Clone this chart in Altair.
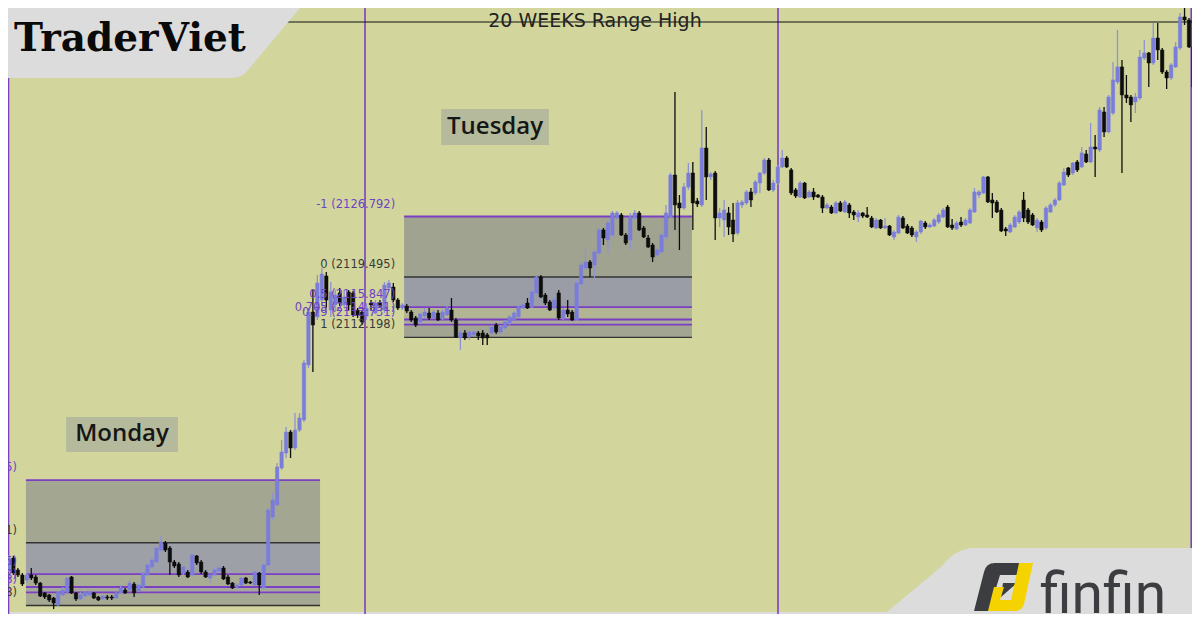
import altair as alt
import pandas as pd

# ---------------- data (prices) ----------------
open_px = [2082.52,2083.73,2084.09,2085.54,2084.09,2083.49,2082.89,2083.49,2083.25,2082.52,
2081.32,2081.08,2080.71,2079.87,2081.08,2081.44,2083.25,2081.32,2080.59,2080.95,
2081.08,2081.32,2080.83,2080.59,2080.83,2080.83,2080.71,2081.32,2081.68,2081.68,
2082.40,2081.56,2082.04,2083.49,2084.46,2085.06,2086.51,2087.36,2086.75,2085.06,
2084.82,2083.73,2083.85,2083.49,2085.79,2085.06,2083.85,2083.13,2083.49,2083.97,
2084.34,2083.25,2082.52,2082.04,2082.28,2083.13,2082.64,2082.28,2083.73,2081.92,
2084.70,2090.49,2091.95,2096.42,2098.23,2100.76,2098.83,2101.00,2102.22,2108.86,
2115.26,2114.66,2116.71,2119.61,2115.50,2116.11,2117.56,2116.11,2117.68,2117.56,
2115.50,2115.26,2114.78,2116.35,2115.14,2116.35,2115.50,2118.16,2118.28,2116.71,
2115.74,2115.98,2115.26,2114.54,2114.05,2114.78,2115.14,2114.54,2115.14,2114.54,
2114.90,2115.50,2114.29,2112.13,2112.73,2112.25,2112.49,2112.73,2112.73,2112.49,
2112.73,2113.69,2112.85,2113.33,2113.93,2114.29,2114.66,2115.74,2116.35,2115.86,
2117.56,2119.49,2117.31,2116.47,2115.74,2117.56,2114.54,2115.50,2115.26,2114.29,
2118.64,2120.57,2121.30,2120.94,2122.39,2125.17,2123.96,2124.56,2126.61,2126.98,
2124.56,2123.96,2126.61,2127.22,2125.41,2124.20,2123.35,2122.15,2122.51,2124.32,
2126.73,2131.81,2128.43,2127.82,2130.36,2132.05,2128.67,2128.19,2135.07,2131.57,
2132.05,2126.61,2126.37,2127.22,2126.37,2124.80,2128.19,2128.43,2129.76,2129.64,
2130.84,2132.05,2133.62,2130.00,2130.84,2132.78,2133.86,2132.42,2130.00,2129.15,
2130.84,2129.15,2129.76,2129.39,2129.15,2127.82,2127.94,2127.22,2128.43,2127.34,
2128.19,2127.34,2126.73,2127.22,2126.98,2126.61,2125.41,2126.37,2125.41,2125.65,
2124.32,2124.80,2126.61,2125.65,2125.41,2124.32,2124.92,2126.01,2125.53,2125.65,
2126.13,2126.73,2127.94,2125.77,2125.29,2126.13,2125.77,2126.01,2127.34,2129.39,
2129.64,2131.57,2128.79,2128.55,2127.58,2125.29,2124.92,2125.53,2126.13,2128.79,
2127.58,2126.98,2125.41,2126.13,2125.41,2127.34,2128.19,2128.79,2130.60,2132.66,
2132.05,2133.38,2132.78,2134.35,2133.38,2135.19,2134.83,2139.42,2137.00,2139.30,
2143.05,2144.86,2141.47,2141.23,2140.63,2141.11,2145.94,2146.55,2145.34,2148.36,
2146.91,2144.25,2143.53,2144.86,2147.15,2150.90,2150.53,2147.27,2142.68]

high_px = [2084.34,2085.30,2085.91,2085.79,2084.34,2083.73,2083.73,2084.34,2083.49,2082.64,
2081.44,2081.20,2080.83,2081.56,2082.04,2083.25,2083.37,2081.44,2081.44,2081.56,
2081.68,2081.44,2080.95,2081.08,2081.08,2081.08,2081.44,2082.28,2081.92,2082.89,
2082.64,2082.52,2083.85,2084.94,2085.54,2086.87,2088.20,2087.60,2086.99,2085.30,
2085.06,2084.70,2084.09,2086.03,2085.91,2085.30,2084.09,2083.61,2084.34,2084.58,
2084.58,2083.49,2082.64,2082.52,2083.25,2083.25,2082.76,2083.97,2083.85,2084.94,
2091.58,2093.40,2097.02,2099.80,2101.37,2101.00,2103.06,2103.06,2109.46,2115.74,
2117.92,2119.73,2120.57,2120.09,2118.88,2117.92,2118.16,2117.92,2117.92,2117.80,
2115.74,2115.50,2116.35,2116.71,2116.71,2116.71,2118.88,2119.12,2118.76,2116.95,
2116.35,2116.23,2115.50,2114.78,2115.14,2115.74,2115.74,2115.50,2115.50,2115.50,
2115.98,2116.95,2114.54,2113.09,2113.09,2113.09,2113.09,2112.97,2113.09,2112.73,
2113.69,2113.93,2113.69,2114.29,2114.90,2115.38,2116.11,2116.35,2116.95,2117.92,
2119.73,2119.73,2117.56,2116.71,2117.07,2117.92,2115.74,2116.71,2115.50,2119.12,
2121.30,2123.11,2121.54,2122.75,2125.41,2125.41,2126.37,2127.46,2127.46,2127.22,
2124.80,2127.22,2127.58,2127.46,2125.65,2124.56,2123.59,2122.99,2124.80,2128.19,
2132.05,2141.84,2129.39,2130.84,2133.26,2133.38,2129.03,2139.66,2137.61,2132.17,
2132.29,2127.82,2128.79,2127.94,2128.43,2128.79,2128.79,2130.00,2130.24,2131.21,
2132.17,2133.86,2133.86,2131.21,2133.02,2134.83,2134.10,2132.66,2130.24,2131.09,
2130.97,2130.00,2130.24,2129.51,2129.39,2128.43,2128.19,2128.67,2128.67,2128.79,
2128.43,2127.58,2127.58,2127.34,2127.94,2126.86,2126.61,2126.49,2126.61,2125.77,
2125.17,2126.98,2126.86,2125.89,2125.65,2125.17,2126.37,2126.25,2126.01,2126.61,
2127.22,2127.82,2128.19,2126.49,2126.25,2126.73,2126.61,2127.82,2130.24,2130.00,
2131.69,2131.69,2129.64,2128.79,2127.82,2125.53,2126.01,2126.98,2127.58,2129.76,
2127.82,2127.22,2126.61,2126.37,2128.07,2128.43,2129.03,2131.09,2132.66,2132.78,
2133.38,2133.62,2135.19,2134.83,2138.09,2136.64,2140.02,2140.02,2141.47,2145.46,
2149.33,2145.70,2143.89,2141.47,2141.72,2146.91,2148.12,2146.67,2150.17,2150.17,
2147.15,2144.49,2145.34,2147.88,2151.38,2152.10,2150.78,2147.51,2144.13]

low_px = [2082.16,2083.37,2083.85,2083.49,2083.25,2082.16,2082.52,2082.89,2082.28,2080.83,
2080.59,2080.23,2079.38,2079.75,2080.95,2081.32,2081.20,2080.35,2080.47,2080.83,
2080.95,2080.59,2080.35,2080.47,2080.47,2080.47,2080.59,2081.20,2081.20,2081.56,
2080.83,2081.44,2081.92,2083.37,2084.34,2084.94,2086.39,2086.27,2083.49,2084.34,
2083.25,2083.49,2083.13,2083.37,2084.70,2083.61,2083.13,2082.52,2083.37,2083.73,
2082.89,2082.28,2081.80,2081.80,2082.16,2082.40,2082.40,2082.16,2081.08,2081.68,
2084.58,2090.13,2091.83,2096.18,2097.62,2097.62,2098.59,2100.76,2101.97,2108.49,
2108.01,2114.29,2116.11,2115.74,2114.66,2115.26,2115.98,2115.74,2115.50,2114.66,
2114.54,2113.69,2114.29,2115.50,2115.02,2115.74,2115.14,2117.92,2116.47,2115.50,
2115.50,2115.14,2114.05,2113.45,2113.81,2114.54,2114.29,2114.42,2114.17,2114.29,
2114.78,2114.05,2112.13,2110.67,2111.88,2111.88,2112.37,2111.88,2111.28,2111.28,
2112.49,2112.61,2112.61,2113.09,2113.69,2114.05,2114.54,2115.62,2115.62,2115.74,
2117.31,2116.95,2116.11,2115.38,2115.50,2114.29,2114.29,2114.66,2114.17,2114.17,
2118.52,2120.33,2119.49,2119.37,2122.15,2123.35,2122.39,2124.32,2126.37,2124.44,
2123.35,2122.75,2126.37,2125.05,2124.20,2122.99,2121.30,2121.90,2122.39,2123.96,
2126.61,2125.17,2122.75,2127.58,2130.00,2125.17,2127.94,2127.94,2128.79,2131.21,
2123.96,2125.53,2124.32,2124.56,2123.72,2124.56,2127.82,2128.19,2127.94,2129.39,
2129.64,2131.81,2129.88,2129.76,2130.60,2132.66,2132.66,2129.39,2129.03,2129.03,
2128.91,2129.03,2128.79,2129.03,2127.22,2127.70,2127.10,2127.10,2127.34,2127.22,
2126.61,2126.37,2126.13,2126.61,2126.61,2125.41,2125.29,2125.29,2125.29,2124.44,
2123.96,2124.68,2125.29,2124.68,2124.32,2123.72,2124.68,2125.29,2125.41,2125.53,
2125.89,2126.61,2125.41,2125.17,2125.17,2125.53,2125.65,2125.89,2127.22,2129.03,
2129.51,2128.43,2126.61,2127.22,2124.92,2124.44,2124.80,2125.41,2125.89,2126.13,
2125.89,2125.65,2124.92,2124.92,2125.17,2127.22,2127.94,2128.67,2130.48,2131.57,
2131.81,2132.17,2132.66,2133.26,2133.26,2131.57,2134.59,2136.40,2136.88,2139.06,
2142.80,2132.05,2140.51,2138.21,2139.30,2140.87,2145.70,2142.44,2145.10,2145.70,
2144.01,2142.20,2143.29,2144.74,2146.91,2149.93,2147.15,2142.32,2140.87]

close_px = [2083.85,2084.94,2085.54,2083.73,2083.49,2082.40,2083.49,2083.13,2082.52,2080.95,
2080.83,2080.47,2080.11,2081.44,2081.68,2083.13,2081.32,2080.59,2081.08,2081.44,
2081.44,2080.71,2080.47,2080.95,2080.71,2080.71,2081.32,2081.92,2081.32,2082.52,
2081.32,2082.28,2083.73,2084.70,2085.30,2086.75,2087.48,2086.51,2085.06,2084.58,
2083.49,2084.46,2083.25,2085.91,2084.94,2083.85,2083.25,2083.49,2084.09,2084.34,
2083.01,2082.40,2081.92,2082.28,2083.13,2082.52,2082.52,2083.85,2082.28,2084.70,
2091.34,2092.55,2096.54,2098.35,2100.76,2098.83,2101.00,2102.46,2109.10,2115.26,
2113.69,2118.76,2119.85,2116.71,2117.68,2117.31,2116.35,2117.07,2116.11,2114.90,
2114.90,2114.05,2115.74,2116.11,2116.35,2115.98,2118.52,2118.76,2116.71,2115.74,
2116.11,2115.38,2114.29,2113.69,2115.02,2115.26,2114.54,2115.26,2114.29,2115.26,
2115.74,2114.29,2112.25,2112.73,2112.13,2112.85,2112.85,2112.37,2112.13,2112.13,
2113.45,2112.85,2113.45,2114.05,2114.66,2115.14,2115.86,2116.11,2115.74,2117.68,
2119.49,2117.07,2116.35,2115.50,2116.71,2114.54,2115.50,2115.02,2114.29,2118.76,
2120.94,2121.30,2120.57,2122.51,2125.17,2124.20,2126.01,2127.22,2127.22,2124.56,
2123.59,2126.73,2127.22,2125.17,2124.32,2123.11,2121.90,2122.75,2124.56,2127.22,
2131.81,2128.19,2127.82,2130.36,2132.05,2128.43,2128.31,2135.07,2131.57,2131.93,
2126.61,2127.22,2127.58,2125.53,2124.68,2128.43,2128.55,2129.76,2128.79,2130.97,
2132.05,2133.62,2130.00,2130.84,2132.78,2133.86,2132.78,2129.64,2129.27,2130.84,
2129.03,2129.76,2129.15,2129.15,2127.82,2128.19,2127.22,2128.43,2127.46,2128.55,
2127.22,2126.98,2127.22,2126.86,2126.73,2125.53,2126.37,2125.41,2125.65,2124.56,
2124.92,2126.73,2125.41,2124.80,2124.56,2124.92,2126.25,2125.53,2125.77,2126.37,
2126.98,2127.58,2125.53,2125.41,2126.01,2125.77,2126.37,2127.58,2129.76,2129.76,
2131.57,2128.55,2128.43,2127.34,2125.05,2125.05,2125.77,2126.73,2127.34,2126.61,
2126.13,2125.77,2126.37,2125.17,2127.82,2128.19,2128.79,2130.84,2132.17,2131.81,
2133.26,2132.42,2134.47,2133.38,2135.19,2134.95,2139.66,2137.00,2141.23,2143.29,
2144.86,2141.47,2141.11,2140.27,2141.23,2146.06,2146.55,2145.34,2148.36,2146.91,
2144.25,2143.53,2145.10,2147.27,2150.90,2150.53,2147.27,2142.44,2141.23]

candle_index = list(range(len(open_px)))

fib_ratio = [-1, 0, 0.5, 0.705, 0.79, 1]
fib_ratio_text = ["-1", "0", "0.5", "0.705", "0.79", "1"]
monday_levels = [2094.955, 2087.381, 2083.595, 2082.042, 2081.398, 2079.808]
tuesday_levels = [2126.792, 2119.495, 2115.847, 2114.351, 2113.731, 2112.198]
box_start = [5.8, 90.4]          # candle index
box_end = [71.6, 154.8]
label_anchor = [3.8, 88.4]
monday_zone_colors = ["#a3a690", "#9da0a6", "#a9ac95", "#a6a99a", "#a5a892"]
tuesday_zone_colors = ["#a0a38f", "#9a9da6", "#b2b593", "#a9ab9b", "#a2a591"]
level_line_colors = ["#7b3fc4", "#333333", "#7b3fc4", "#7b3fc4", "#7b3fc4", "#333333"]
level_text_colors = ["#6d45c2", "#3a3a3a", "#6d45c2", "#6d45c2", "#6d45c2", "#3a3a3a"]

range_high = 2150.29
range_high_text = "20 WEEKS Range High"
range_text_at = 133.1
session_lines = [1.9, 81.66, 174.05, 266.5]

day_names = ["Monday", "Tuesday"]
day_box_x1 = [14.8, 98.7]
day_box_x2 = [39.8, 122.8]
day_box_top = [2102.58, 2139.78]
day_box_bottom = [2098.35, 2135.43]

plot_right = 266.67
plot_bottom = 2079.02

X_DOM = [1.79, 266.67]
Y_DOM = [2078.78, 2151.98]

# ---------------- frames ----------------
candles = pd.DataFrame({"i": candle_index, "o": open_px, "h": high_px,
                        "l": low_px, "c": close_px})
candles["dir"] = ["up" if c >= o else "down" for o, c in zip(open_px, close_px)]

zones, lines, labels = [], [], []
for b, levels, zcols in [(0, monday_levels, monday_zone_colors),
                         (1, tuesday_levels, tuesday_zone_colors)]:
    for k in range(5):
        zones.append({"x1": box_start[b], "x2": box_end[b], "y1": levels[k],
                      "y2": levels[k + 1], "fill": zcols[k]})
    for k in range(6):
        lines.append({"x1": box_start[b], "x2": box_end[b], "y": levels[k],
                      "col": level_line_colors[k],
                      "w": 1.8 if level_line_colors[k] != "#333333" else 1.4})
        labels.append({"x": label_anchor[b], "y": levels[k],
                       "t": f"{fib_ratio_text[k]} ({levels[k]:.3f})",
                       "col": level_text_colors[k]})
zones = pd.DataFrame(zones)
lines = pd.DataFrame(lines)
labels = pd.DataFrame(labels)

xs = alt.Scale(domain=X_DOM, nice=False, zero=False, padding=0)
ys = alt.Scale(domain=Y_DOM, nice=False, zero=False, padding=0)


def X(f):
    return alt.X(f, type="quantitative", scale=xs, axis=None)


def Y(f):
    return alt.Y(f, type="quantitative", scale=ys, axis=None)


one = pd.DataFrame({"a": [0]})

bg = alt.Chart(pd.DataFrame({"x1": [0], "x2": [plot_right], "y1": [2153.0],
                             "y2": [plot_bottom]})).mark_rect(
    color="#d2d69d", clip=True).encode(x=X("x1"), x2="x2", y=Y("y1"), y2="y2")

zone_layer = alt.Chart(zones).mark_rect(clip=True).encode(
    x=X("x1"), x2="x2", y=Y("y1"), y2="y2",
    fill=alt.Fill("fill:N", scale=None))

line_layer = alt.Chart(lines).mark_rule(clip=True).encode(
    x=X("x1"), x2="x2", y=Y("y"),
    color=alt.Color("col:N", scale=None),
    strokeWidth=alt.StrokeWidth("w:Q", scale=None))

vlines = alt.Chart(pd.DataFrame({"x": session_lines})).mark_rule(
    color="#7b3fc4", strokeWidth=1.6, clip=True).encode(x=X("x"))

hline = alt.Chart(pd.DataFrame({"y": [range_high], "x1": [X_DOM[0]],
                                "x2": [X_DOM[1]]})).mark_rule(
    color="#111111", strokeWidth=1.1).encode(x=X("x1"), x2="x2", y=Y("y"))

dir_scale_body = alt.Scale(domain=["up", "down"], range=["#7a7ddb", "#0d0d0d"])
dir_scale_wick = alt.Scale(domain=["up", "down"], range=["#8f93d4", "#0d0d0d"])

wicks = alt.Chart(candles).mark_rule(strokeWidth=1.3, clip=True).encode(
    x=X("i"), y=Y("l"), y2="h",
    color=alt.Color("dir:N", scale=dir_scale_wick, legend=None))

bodies = alt.Chart(candles).mark_bar(size=3.4, strokeWidth=0.5, clip=True).encode(
    x=X("i"), y=Y("o"), y2="c",
    fill=alt.Fill("dir:N", scale=dir_scale_body, legend=None),
    stroke=alt.Stroke("dir:N", scale=dir_scale_body, legend=None))

label_layer = alt.Chart(labels).mark_text(
    align="right", baseline="middle", dy=-12, fontSize=11.5,
    font="DejaVu Sans", clip=True).encode(
    x=X("x"), y=Y("y"), text="t:N", color=alt.Color("col:N", scale=None))

days = pd.DataFrame({"name": day_names, "x1": day_box_x1, "x2": day_box_x2,
                     "y1": day_box_top, "y2": day_box_bottom})
days["xc"] = (days["x1"] + days["x2"]) / 2
days["yc"] = (days["y1"] + days["y2"]) / 2
day_boxes = alt.Chart(days).mark_rect(color="#b4ba9b").encode(
    x=X("x1"), x2="x2", y=Y("y1"), y2="y2")
day_text = alt.Chart(days).mark_text(
    font="Open Sans", fontSize=24, fontWeight=600, color="#161616",
    align="center", baseline="middle", dy=0).encode(
    x=X("xc"), y=Y("yc"), text="name:N")

range_text = alt.Chart(pd.DataFrame({"x": [range_text_at], "y": [range_high],
                                     "t": [range_high_text]})).mark_text(
    font="DejaVu Sans", fontSize=19, color="#222222", align="center",
    baseline="middle", dy=-1).encode(x=X("x"), y=Y("y"), text="t:N")


def shape(path, color):
    return alt.Chart(one).mark_point(
        shape=path, size=4, filled=True, fill=color, opacity=1,
        strokeWidth=0).encode(x=alt.value(0), y=alt.value(0))


trader_banner = shape("M-28,-28 L292,-28 L292,0 L240,62 Q234,70 224,70 L-28,70 Z",
                      "#dcdcdc")
finfin_banner = shape("M879,604 L934,558 Q948,540 966,540 L1202,540 L1202,620 L879,620 Z",
                      "#dcdcdc")
logo_f = shape("M976,564 Q978,555 987,555 L1019,555 L1015,567 L992,567 L981,603 L966,603 Z",
               "#3c3d40")
logo_tri = shape("M995,575 L1009,575 L993,589 Z", "#3c3d40")
logo_j = shape("M1011,555 L1025,555 L1016,596 Q1014,603 1006,603 L980,603 L986,579 "
               "L996,579 L992,592 L1003,592 Z", "#f4d300")

trader_text = alt.Chart(one).mark_text(
    text="TraderViet", font="DejaVu Serif", fontWeight="bold", fontSize=39,
    color="#0a0a0a", align="left", baseline="alphabetic").encode(
    x=alt.value(6), y=alt.value(43))
finfin_text = alt.Chart(one).mark_text(
    text="finfin", font="Roboto", fontSize=57, color="#3c3d40",
    align="left", baseline="alphabetic").encode(
    x=alt.value(1032), y=alt.value(605))

chart = alt.layer(
    bg, zone_layer, line_layer, vlines, hline, wicks, bodies, label_layer,
    day_boxes, day_text, range_text, trader_banner, trader_text,
    finfin_banner, logo_f, logo_tri, logo_j, finfin_text
).properties(
    width=1184, height=606, padding=0, autosize="none", background="#dcdcdc"
).configure_view(stroke=None)

chart.save("out.html", embed_options={"renderer": "svg", "actions": False})
